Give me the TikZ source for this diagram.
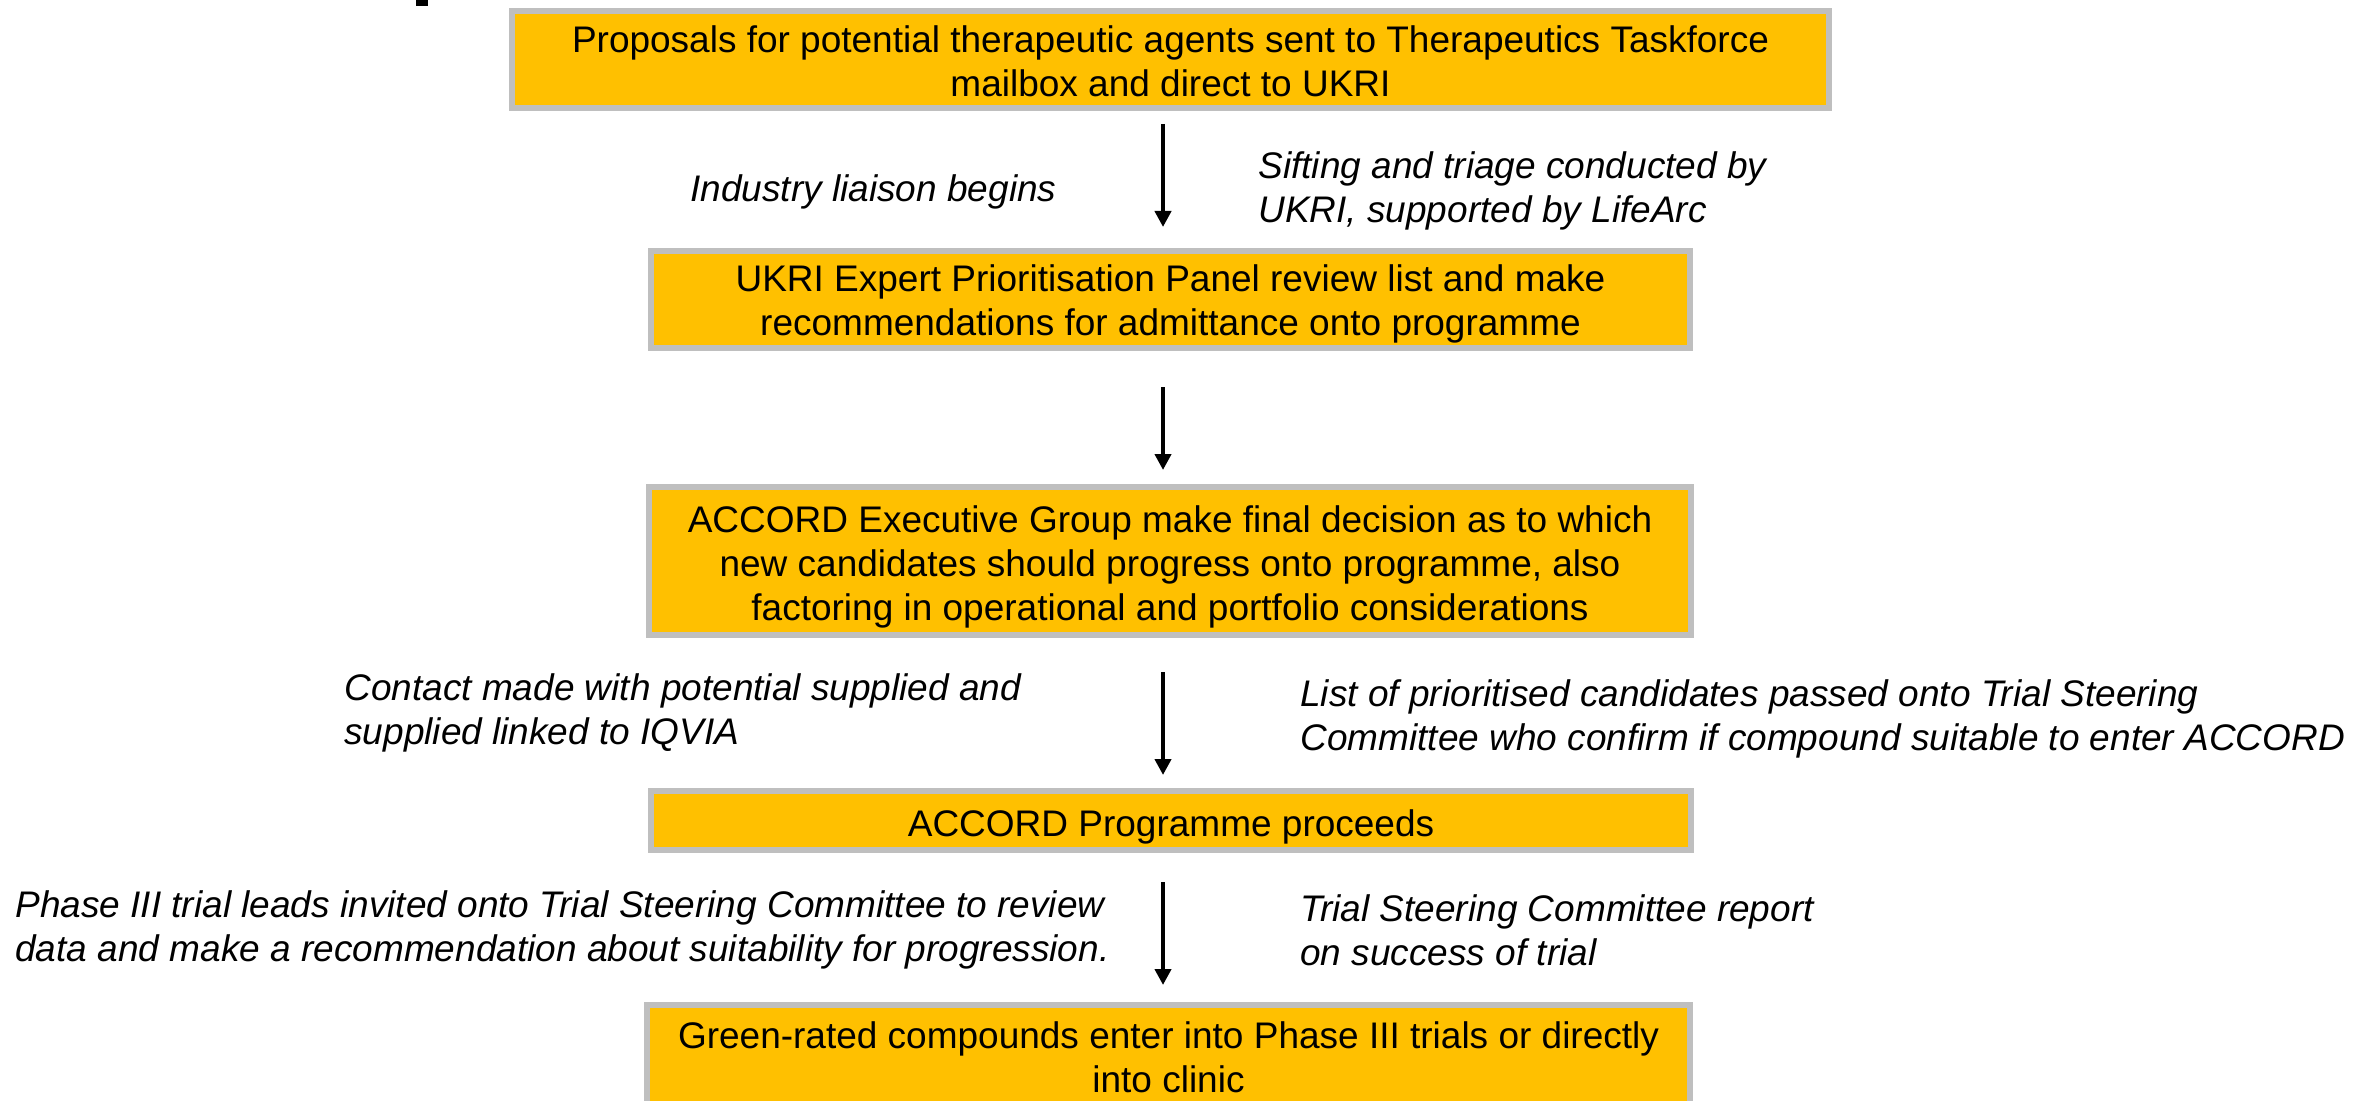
\documentclass[tikz,border=0pt]{standalone}
\usepackage{fontspec}
\setmainfont{Liberation Sans}
\usetikzlibrary{arrows.meta}
\definecolor{boxfill}{HTML}{FFC000}
\definecolor{boxline}{HTML}{BFBFBF}
% extra room above the first line of a box, to set its text a little lower
\newcommand\toproom[1]{\rule{0pt}{#1}}
\tikzset{
  stepbox/.style={fill=boxfill, draw=boxline, line width=3pt, inner sep=0pt,
    align=center, font=\fontsize{18.5}{22}\selectfont},
  note/.style={inner sep=0pt, align=left, anchor=west,
    font=\fontsize{18.5}{22}\selectfont\itshape},
  flow/.style={line width=2.2pt, -{Triangle[length=8pt,width=8pt]}}
}
\begin{document}
\begin{tikzpicture}[x=0.5pt, y=-0.5pt]
  \useasboundingbox (0,0) rectangle (2359,1101);
  \fill[white] (0,0) rectangle (2359,1101);
  \clip (0,0) rectangle (2359,1101);

  % fragment of a heading above the page edge
  \fill[black] (416,0) rectangle (428,6);

  % process boxes
  \node[stepbox, minimum width=1317*0.5pt, minimum height=97*0.5pt] (b1) at (1170.5,59.5)
    {\toproom{15pt}Proposals for potential therapeutic agents sent to Therapeutics Taskforce\\mailbox and direct to UKRI};
  \node[stepbox, minimum width=1039*0.5pt, minimum height=97*0.5pt] (b2) at (1170.5,299.5)
    {\toproom{18pt}UKRI Expert Prioritisation Panel review list and make\\recommendations for admittance onto programme};
  \node[stepbox, minimum width=1042*0.5pt, minimum height=148*0.5pt] (b3) at (1170,561)
    {\toproom{19.5pt}ACCORD Executive Group make final decision as to which\\new candidates should progress onto programme, also\\factoring in operational and portfolio considerations};
  \node[stepbox, minimum width=1040*0.5pt, minimum height=59*0.5pt] (b4) at (1171,820.5)
    {\toproom{19.5pt}ACCORD Programme proceeds};
  \node[stepbox, minimum width=1043*0.5pt, minimum height=104*0.5pt] (b5) at (1168.5,1057)
    {Green-rated compounds enter into Phase III trials or directly\\into clinic};

  % arrows run down a common vertical
  \coordinate (ax) at (1163,0);
  \draw[flow, shorten <=6.5pt, shorten >=10.5pt] (b1.south -| ax) -- (b2.north -| ax);
  \draw[flow, shorten <=18pt, shorten >=7pt] (b2.south -| ax) -- (b3.north -| ax);
  \draw[flow, shorten <=17pt, shorten >=6.5pt] (b3.south -| ax) -- (b4.north -| ax);
  \draw[flow, shorten <=14.5pt, shorten >=8.5pt] (b4.south -| ax) -- (b5.north -| ax);

  % side notes
  \node[note] (n1) at (690,192) {Industry liaison begins};
  \node[note] (n2) at (1258,191) {Sifting and triage conducted by\\UKRI, supported by LifeArc};
  \node[note] (n3) at (344,713) {Contact made with potential supplied and\\supplied linked to IQVIA};
  \node[note] (n4) at (1300,719) {List of prioritised candidates passed onto Trial Steering\\Committee who confirm if compound suitable to enter ACCORD};
  \node[note] (n5) at (15,930) {Phase III trial leads invited onto Trial Steering Committee to review\\data and make a recommendation about suitability for progression.};
  \node[note] (n6) at (1300,930) {Trial Steering Committee report\\on success of trial};
\end{tikzpicture}
\end{document}
